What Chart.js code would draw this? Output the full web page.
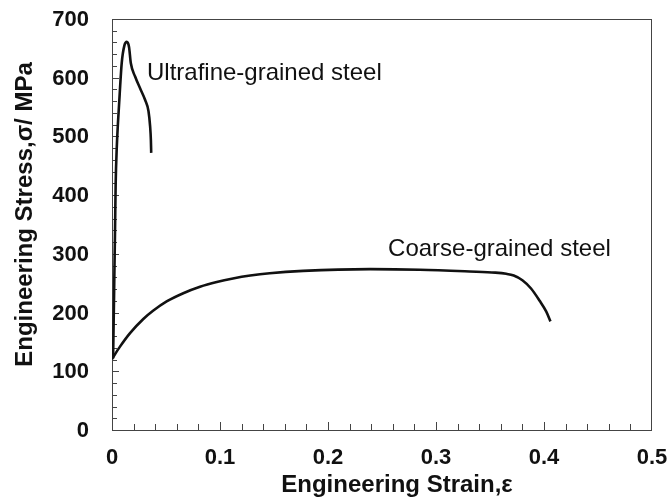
<!DOCTYPE html>
<html lang="en">
<head>
  <meta charset="UTF-8" />
  <title>Engineering stress-strain curves</title>
  <script src="https://cdn.jsdelivr.net/npm/chart.js"></script>
  <style>
    html, body { margin: 0; padding: 0; background: #fff; }
    #wrap { width: 672px; height: 502px; }
  </style>
</head>
<body>
  <div id="wrap"><canvas id="ssChart"></canvas></div>

  <script>
    // Ultrafine-grained steel: strain / stress (MPa)
    const ufgStrain = [0.001, 0.002, 0.0028, 0.0034, 0.0044, 0.0068, 0.009, 0.0115, 0.0137, 0.0158, 0.0174, 0.0214, 0.026, 0.0307, 0.0338, 0.0353, 0.036, 0.0363];
    const ufgStress = [122, 240, 340, 420, 480, 562, 625, 655, 661, 652, 625, 602, 582, 562, 543, 517, 494, 472];

    // Coarse-grained steel: strain / stress (MPa)
    const cgStrain = [0, 0.0074, 0.0167, 0.029, 0.038, 0.0506, 0.066, 0.0815, 0.097, 0.112, 0.128, 0.146, 0.177, 0.239, 0.285, 0.331, 0.355, 0.365, 0.372, 0.38, 0.388, 0.396, 0.402, 0.406];
    const cgStress = [121, 142, 165, 189, 203, 219, 233, 244, 252, 258, 263, 267, 271, 274, 273, 270, 268, 266, 263, 255, 241, 220, 202, 185];

    // axis ticks
    const xTickValues = [0, 0.1, 0.2, 0.3, 0.4, 0.5];
    const yTickValues = [0, 100, 200, 300, 400, 500, 600, 700];
    const xMinorStep = 0.02;
    const yMinorStep = 20;

    // curve labels (anchored in data units: strain, stress)
    const curveLabels = [
      { text: 'Ultrafine-grained steel', x: 0.0324, y: 596 },
      { text: 'Coarse-grained steel', x: 0.2556, y: 296 }
    ];

    const FONT = '"Liberation Sans", Arial, Helvetica, sans-serif';
    const INK = '#111';

    const toPoints = (xs, ys) => xs.map((x, i) => ({ x: x, y: ys[i] }));

    // box around the plot plus inward tick marks on the left and bottom
    const frameTicks = {
      id: 'frameTicks',
      beforeDatasetsDraw(chart) {
        const { ctx, chartArea: a, scales: { x, y } } = chart;
        ctx.save();
        ctx.strokeStyle = '#444';
        ctx.lineWidth = 1;
        ctx.strokeRect(a.left + 0.5, a.top + 0.5, a.right - a.left - 1, a.bottom - a.top);
        ctx.beginPath();
        const nx = Math.round(0.5 / xMinorStep);
        for (let i = 1; i < nx; i++) {
          const px = Math.round(x.getPixelForValue(i * xMinorStep)) + 0.5;
          const len = i % 5 === 0 ? 8 : 6;
          ctx.moveTo(px, a.bottom);
          ctx.lineTo(px, a.bottom - len);
        }
        const ny = Math.round(700 / yMinorStep);
        for (let i = 1; i < ny; i++) {
          const py = Math.round(y.getPixelForValue(i * yMinorStep)) + 0.5;
          const len = i % 5 === 0 ? 7 : 5;
          ctx.moveTo(a.left, py);
          ctx.lineTo(a.left + len, py);
        }
        ctx.stroke();
        ctx.restore();
      }
    };

    // tick labels, axis titles and the two curve labels
    const texts = {
      id: 'texts',
      afterDraw(chart) {
        const { ctx, chartArea: a, scales: { x, y } } = chart;
        ctx.save();
        ctx.fillStyle = INK;

        ctx.font = 'bold 22px ' + FONT;
        ctx.textBaseline = 'middle';
        ctx.textAlign = 'center';
        xTickValues.forEach(v => {
          ctx.fillText(String(v), x.getPixelForValue(v), a.bottom + 28);
        });
        ctx.textAlign = 'right';
        yTickValues.forEach(v => {
          ctx.fillText(String(v), a.left - 23, y.getPixelForValue(v) + 1);
        });

        ctx.textBaseline = 'alphabetic';
        ctx.font = 'bold 24px ' + FONT;
        ctx.textAlign = 'center';
        ctx.fillText('Engineering Strain,\u03b5', (a.left + a.right) / 2 + 15, a.bottom + 62);

        ctx.save();
        ctx.translate(a.left - 80, (a.top + a.bottom) / 2 - 10);
        ctx.rotate(-Math.PI / 2);
        ctx.fillText('Engineering Stress,\u03c3/ MPa', 0, 0);
        ctx.restore();

        ctx.font = '24px ' + FONT;
        ctx.textAlign = 'left';
        curveLabels.forEach(l => {
          ctx.fillText(l.text, x.getPixelForValue(l.x), y.getPixelForValue(l.y));
        });
        ctx.restore();
      }
    };

    new Chart(document.getElementById('ssChart'), {
      type: 'line',
      data: {
        datasets: [{
          label: 'Ultrafine-grained steel',
          data: toPoints(ufgStrain, ufgStress),
          borderColor: INK,
          borderWidth: 2.6,
          pointRadius: 0,
          cubicInterpolationMode: 'monotone',
          fill: false
        }, {
          label: 'Coarse-grained steel',
          data: toPoints(cgStrain, cgStress),
          borderColor: INK,
          borderWidth: 2.6,
          pointRadius: 0,
          cubicInterpolationMode: 'monotone',
          fill: false
        }]
      },
      options: {
        responsive: true,
        maintainAspectRatio: false,
        animation: false,
        layout: { padding: { top: 19, right: 20, left: 0, bottom: 0 } },
        plugins: {
          legend: { display: false },
          tooltip: { enabled: false }
        },
        scales: {
          x: {
            type: 'linear',
            min: 0,
            max: 0.5,
            afterBuildTicks: s => { s.ticks = xTickValues.map(v => ({ value: v })); },
            afterFit: s => { s.height = 72; },
            grid: { display: false, drawTicks: false },
            border: { display: false },
            ticks: { display: false }
          },
          y: {
            type: 'linear',
            min: 0,
            max: 700,
            afterBuildTicks: s => { s.ticks = yTickValues.map(v => ({ value: v })); },
            afterFit: s => { s.width = 112; },
            grid: { display: false, drawTicks: false },
            border: { display: false },
            ticks: { display: false }
          }
        }
      },
      plugins: [frameTicks, texts]
    });
  </script>
</body>
</html>
